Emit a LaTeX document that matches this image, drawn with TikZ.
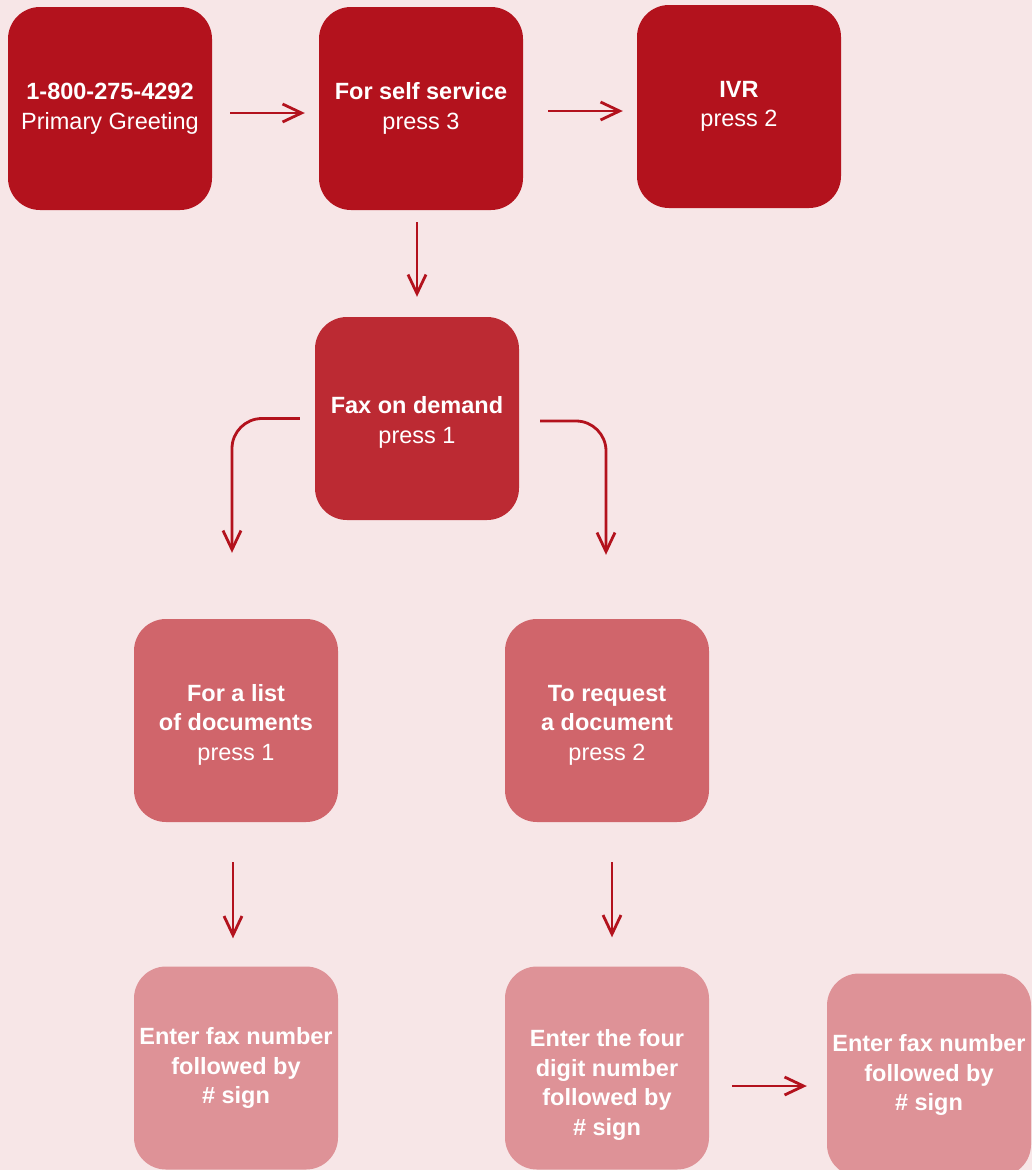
\documentclass[tikz,border=0pt]{standalone}
\usepackage{fontspec}
\setmainfont{Liberation Sans}
\usetikzlibrary{arrows.meta}
\definecolor{bgpink}{HTML}{F7E6E7}
\definecolor{redA}{HTML}{B3121D}
\definecolor{redB}{HTML}{BC2A33}
\definecolor{redC}{HTML}{D0656B}
\definecolor{redD}{HTML}{DE9297}
\tikzset{
    menubox/.style={
        fill=#1, rounded corners=32pt,
        minimum width=204pt, minimum height=203pt, inner sep=0pt,
        align=center, text=white,
        font=\fontsize{23.5}{29.5}\selectfont
    },
    menubox/.default={redA}
}
\tikzset{
    link/.style={
        draw=redA, line width=2.8pt,
        -{Straight Barb[length=19pt,width=18pt]}
    }
}

\begin{document}
\begin{tikzpicture}[x=1pt, y=-1pt]
    \useasboundingbox (0,0) rectangle (1032,1170);
    \fill[bgpink] (0,0) rectangle (1032,1170);
    \coordinate (c1) at (110.0000, 108.5000);
    \coordinate (c2) at (421.0000, 108.5000);
    \coordinate (c3) at (739.0000, 106.5000);
    \coordinate (c4) at (417.0000, 418.5000);
    \coordinate (c5) at (236.0000, 720.5000);
    \coordinate (c6) at (607.0000, 720.5000);
    \coordinate (c7) at (236.0000, 1068.0000);
    \coordinate (c8) at (607.0000, 1068.0000);
    \coordinate (c9) at (929.0000, 1075.0000);
    \node[menubox] (greet) at (c1) {\textbf{1-800-275-4292}\\Primary Greeting};
    \node[menubox] (self) at (c2) {\textbf{For self service}\\press 3};
    \node[menubox] (ivr) at (c3) {\textbf{IVR}\\press 2};
    \node[menubox=redB] (fax) at (c4) {\rule{0pt}{25pt}\textbf{Fax on demand}\\press 1};
    \node[menubox=redC] (list) at (c5) {\rule{0pt}{25pt}\textbf{For a list}\\\textbf{of documents}\\press 1};
    \node[menubox=redC] (request) at (c6) {\rule{0pt}{25pt}\textbf{To request}\\\textbf{a document}\\press 2};
    \node[menubox=redD, font=\bfseries\fontsize{23.5}{29.5}\selectfont] (faxno1) at (c7) {Enter fax number\\followed by\\\# sign};
    \node[menubox=redD, font=\bfseries\fontsize{23.5}{29.5}\selectfont] (docno) at (c8) {\rule{0pt}{51pt}Enter the four\\digit number\\followed by\\\# sign};
    \node[menubox=redD, font=\bfseries\fontsize{23.5}{29.5}\selectfont] (faxno2) at (c9) {Enter fax number\\followed by\\\# sign};
    % connectors
    \draw[link, shorten <=18pt, shorten >=14pt] ([yshift=-4.5pt]greet.east) -- ([yshift=-4.5pt]self.west);
    \draw[link, shorten <=25pt, shorten >=14pt] ([yshift=-2.5pt]self.east) -- ([yshift=-4.5pt]ivr.west);
    \draw[link, shorten <=12pt, shorten >=20pt] ([xshift=-4pt]self.south) -- (fax.north);
    \draw[link, rounded corners=30pt, shorten <=15pt, shorten >=66pt] (fax.west) -| ([xshift=-4pt]list.north);
    \draw[link, rounded corners=30pt, shorten <=21pt, shorten >=64pt] ([yshift=-2.5pt]fax.east) -| ([xshift=-1pt]request.north);
    \draw[link, shorten <=40pt, shorten >=28pt] ([xshift=-3pt]list.south) -- ([xshift=-3pt]faxno1.north);
    \draw[link, shorten <=40pt, shorten >=29pt] ([xshift=5pt]request.south) -- ([xshift=5pt]docno.north);
    \draw[link, shorten <=23pt, shorten >=20pt] ([yshift=-18pt]docno.east) -- ([yshift=-11pt]faxno2.west);
\end{tikzpicture}
\end{document}
